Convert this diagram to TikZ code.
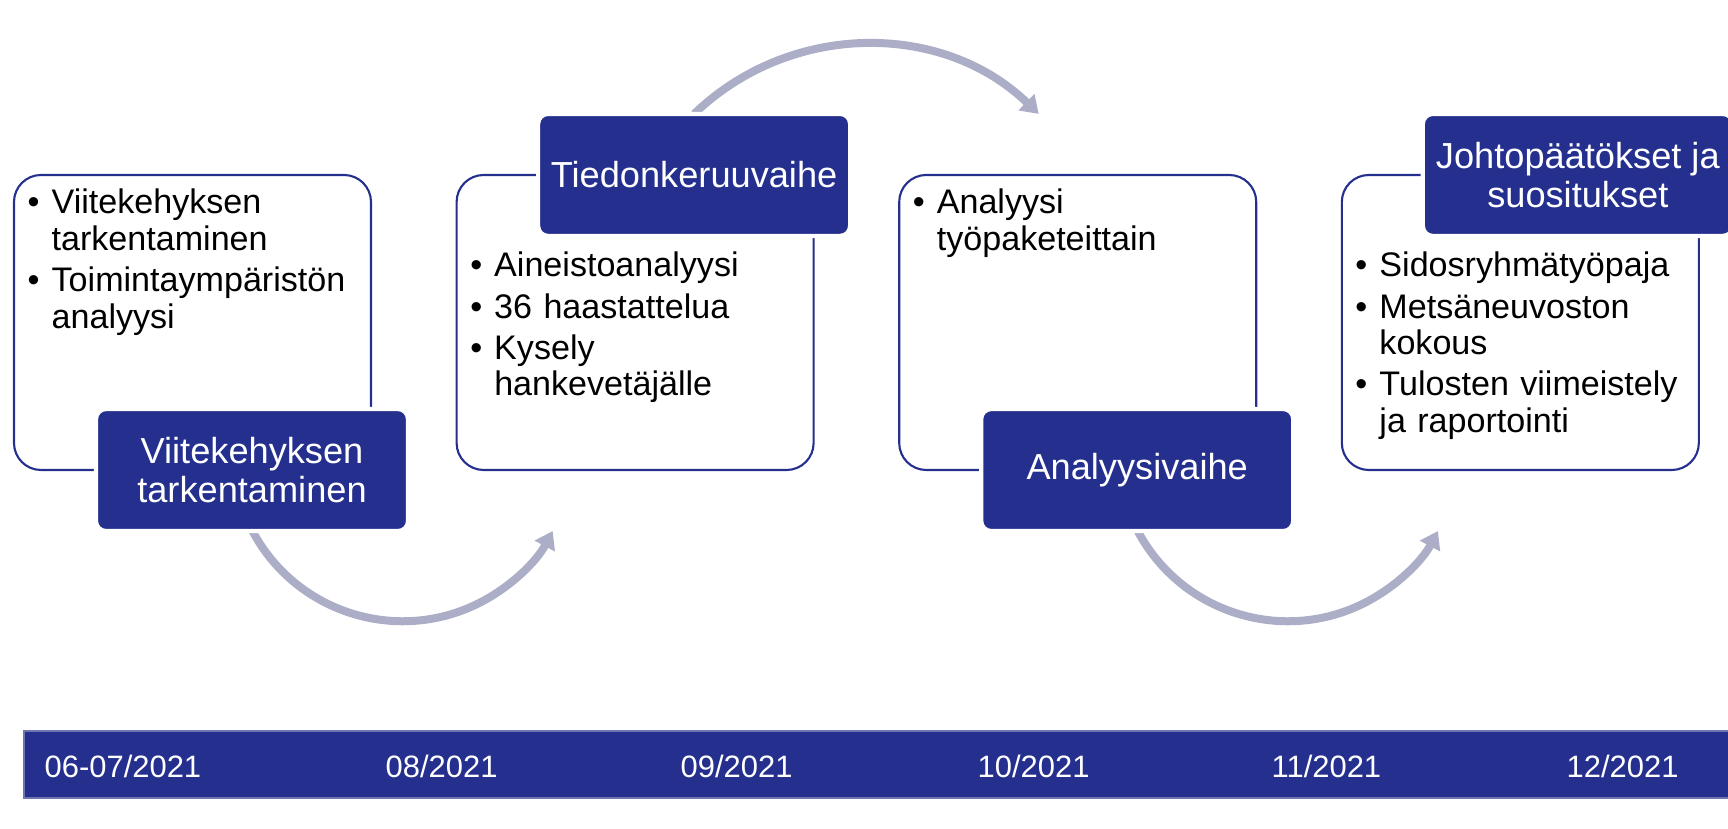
\documentclass[tikz,border=0pt]{standalone}
\usepackage{fontspec}
\setmainfont{Liberation Sans}
\usepackage{tikz}
\usetikzlibrary{arrows.meta,calc,positioning}
\usepackage{xcolor}
\definecolor{navy}{HTML}{25308E}
\definecolor{flowgray}{HTML}{ACAEC8}
\definecolor{barline}{HTML}{6E76B2}

\newcommand{\entry}[1]{\setlength{\parskip}{1.3pt}\hangindent=0.24cm\hangafter=1\noindent\makebox[0.24cm][l]{\textbullet}#1\par}

\begin{document}
\begin{tikzpicture}[scale=1.0,
  panel/.style={draw=navy,line width=0.6pt,rounded corners=0.27cm,minimum width=3.57cm,minimum height=2.95cm,inner sep=0pt},
  head/.style={fill=navy,draw=white,line width=1.2pt,rounded corners=0.1cm,minimum width=3.12cm,minimum height=1.22cm,inner sep=0pt,text=white,align=center,font=\fontsize{10.3}{10.9}\selectfont},
  items/.style={anchor=base west,inner sep=0pt,text width=3.3cm,font=\fontsize{9.7}{10.4}\selectfont},
  flow/.style={draw=flowgray,line width=0.08cm,-{Triangle[length=0.17cm,width=0.22cm]}},
  date/.style={anchor=base west,inner sep=0pt,text=white,font=\fontsize{8.8}{10}\selectfont}]
  \useasboundingbox (0,0) rectangle (17.28,8.29);

  % vaiheet
  \node[panel] (p1) at (1.925,5.065) {};
  \node[panel,right=0.835cm of p1] (p2) {};
  \node[panel,right=0.835cm of p2] (p3) {};
  \node[panel,right=0.835cm of p3] (p4) {};

  % nuolet
  \draw[flow] ($(p1.south)+(0.6,-0.6)$) coordinate (a1) arc[start angle=208,end angle=332,radius=1.70];
  \draw[flow] ($(p2.north)+(0.59,0.6)$) coordinate (a2) arc[start angle=134,end angle=46,radius=2.48];
  \draw[flow] ($(p3.south)+(0.6,-0.6)$) coordinate (a3) arc[start angle=208,end angle=332,radius=1.70];

  % otsikot
  \node[head] (h1) at ($(p1.south)+(0.595,0.01)$) {Viitekehyksen\\tarkentaminen};
  \node[head] (h2) at ($(p2.north)+(0.59,-0.01)$) {Tiedonkeruuvaihe};
  \node[head] (h3) at ($(p3.south)+(0.595,0.01)$) {Analyysivaihe};
  \node[head,minimum width=3.10cm] (h4) at ($(p4.north)+(0.575,-0.01)$) {Johtopäätökset ja\\suositukset};

  % sisältö
  \node[items] (t1) at ($(p1.north west)+(0.14,-0.40)$) {\entry{Viitekehyksen\newline tarkentaminen}\entry{Toimintaympäristön\newline analyysi}};
  \node[items] (t2) at ($(p2.north west)+(0.14,-1.03)$) {\entry{Aineistoanalyysi}\entry{36 haastattelua}\entry{Kysely\newline hankevetäjälle}};
  \node[items] (t3) at ($(p3.north west)+(0.14,-0.40)$) {\entry{Analyysi\newline työpaketeittain}};
  \node[items] (t4) at ($(p4.north west)+(0.14,-1.03)$) {\entry{Sidosryhmätyöpaja}\entry{Metsäneuvoston\newline kokous}\entry{Tulosten viimeistely\newline ja raportointi}};

  % aikajana
  \draw[barline,fill=navy,line width=0.5pt] (0.24,0.31) rectangle (17.40,0.98);
  \foreach \x/\d [count=\i] in {0.44/{06-07/2021},3.85/{08/2021},6.80/{09/2021},9.77/{10/2021},12.71/{11/2021},15.66/{12/2021}}
    \node[date] (d\i) at (\x,0.51) {\d};
\end{tikzpicture}
\end{document}
